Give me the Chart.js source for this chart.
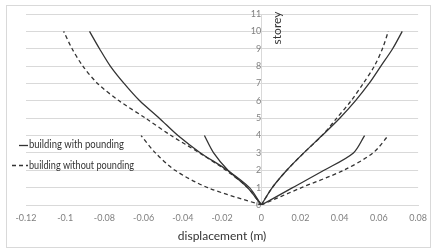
<!DOCTYPE html>
<html>
<head>
<meta charset="utf-8">
<script src="https://cdn.jsdelivr.net/npm/chart.js"></script>
<style>
  body { margin: 0; background: #fff; }
  #wrap { width: 435px; height: 249px; }
</style>
</head>
<body>
<div id="wrap"><canvas id="myChart" width="435" height="249"></canvas></div>
<script>
// storey levels (y values)
const storeys = [0, 1, 2, 3, 4, 5, 6, 7, 8, 9, 10];
const storeysLow = [0, 1, 2, 3, 4];

// displacement (m) per storey
const leftWith = [0, -0.006, -0.0172, -0.031, -0.0425, -0.052, -0.062, -0.070, -0.077, -0.0825, -0.0876];
const leftWithout = [0, -0.007, -0.018, -0.0315, -0.046, -0.059, -0.0725, -0.0835, -0.091, -0.0965, -0.1008];
const leftWithLow = [0, -0.007, -0.017, -0.0243, -0.029];
const leftWithoutLow = [0, -0.0273, -0.044, -0.054, -0.0613];
const rightWith = [0, 0.0056, 0.013, 0.0217, 0.031, 0.040, 0.048, 0.055, 0.061, 0.067, 0.0719];
const rightWithout = [0, 0.0056, 0.013, 0.0217, 0.031, 0.0385, 0.0458, 0.052, 0.0577, 0.0618, 0.0648];
const rightWithLow = [0, 0.016, 0.032, 0.047, 0.0527];
const rightWithoutLow = [0, 0.0205, 0.042, 0.057, 0.0648];

const xTicks = [-0.12, -0.1, -0.08, -0.06, -0.04, -0.02, 0, 0.02, 0.04, 0.06, 0.08];
const legendLabels = ['building with pounding', 'building without pounding'];

function pts(xs, ys) {
  return xs.map((v, i) => ({ x: v, y: ys[i] }));
}

function curve(xs, ys, dashed) {
  return {
    data: pts(xs, ys),
    showLine: true,
    borderColor: '#333',
    borderWidth: 1.3,
    borderDash: dashed ? [4, 3] : [],
    pointRadius: 0,
    tension: 0.3,
    fill: false
  };
}

const extras = {
  id: 'extras',
  afterDraw(chart) {
    const ctx = chart.ctx;
    ctx.save();
    // outer frame
    ctx.strokeStyle = '#d9d9d9';
    ctx.lineWidth = 1;
    ctx.setLineDash([]);
    ctx.strokeRect(6.5, 5.5, 424, 242);

    // legend
    ctx.strokeStyle = '#333';
    ctx.lineWidth = 1.3;
    ctx.beginPath();
    ctx.moveTo(19, 145.5);
    ctx.lineTo(28, 145.5);
    ctx.stroke();
    ctx.setLineDash([4, 3]);
    ctx.beginPath();
    ctx.moveTo(12, 165.5);
    ctx.lineTo(28, 165.5);
    ctx.stroke();
    ctx.setLineDash([]);
    ctx.fillStyle = '#333';
    ctx.font = '10.5px Lato';
    ctx.textBaseline = 'middle';
    ctx.textAlign = 'left';
    ctx.fillText(legendLabels[0], 29, 145, 95);
    ctx.fillText(legendLabels[1], 29, 166, 105);

    // y axis title
    ctx.translate(277, 28);
    ctx.rotate(-Math.PI / 2);
    ctx.textAlign = 'center';
    ctx.font = '12px Lato';
    ctx.fillText('storey', 0, 0);
    ctx.restore();
  }
};

new Chart(document.getElementById('myChart'), {
  type: 'scatter',
  data: {
    datasets: [
      curve(leftWith, storeys, false),
      curve(leftWithout, storeys, true),
      curve(leftWithLow, storeysLow, false),
      curve(leftWithoutLow, storeysLow, true),
      curve(rightWith, storeys, false),
      curve(rightWithout, storeys, true),
      curve(rightWithLow, storeysLow, false),
      curve(rightWithoutLow, storeysLow, true)
    ]
  },
  options: {
    responsive: false,
    animation: false,
    devicePixelRatio: 1,
    layout: { padding: { left: 26, right: 12, top: 14, bottom: 0 } },
    plugins: {
      legend: { display: false },
      tooltip: { enabled: false }
    },
    scales: {
      x: {
        type: 'linear',
        min: -0.12,
        max: 0.08,
        afterBuildTicks: (scale) => { scale.ticks = xTicks.map(v => ({ value: v })); },
        afterFit: (scale) => { scale.height = 44; },
        ticks: {
          padding: 8,
          color: '#808080',
          font: { family: 'Lato', size: 9 },
          callback: (v) => String(Number(v.toFixed(2)))
        },
        grid: { display: false, drawTicks: false },
        border: { color: '#d9d9d9' },
        title: {
          display: true,
          text: 'displacement (m)',
          color: '#333',
          font: { family: 'Lato', size: 12 },
          padding: { top: 0, bottom: 6 }
        }
      },
      y: {
        type: 'linear',
        position: { x: 0 },
        min: 0,
        max: 11,
        ticks: {
          stepSize: 1,
          padding: 4,
          color: '#808080',
          font: { family: 'Lato', size: 9 }
        },
        grid: { color: '#d9d9d9', drawTicks: false },
        border: { color: '#d9d9d9' }
      }
    }
  },
  plugins: [extras]
});
</script>
</body>
</html>
